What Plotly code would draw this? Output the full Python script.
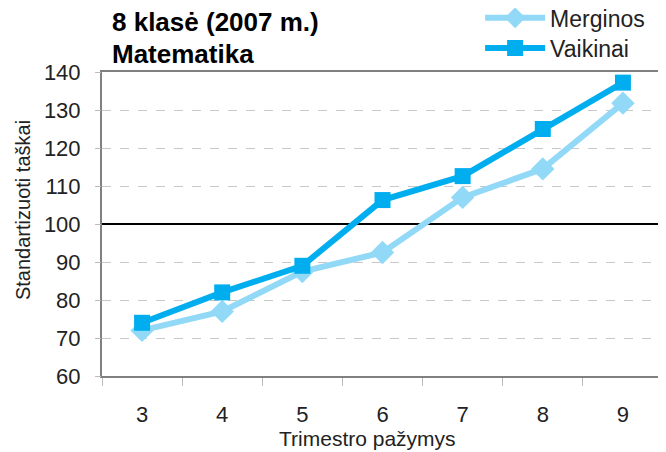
import plotly.graph_objects as go

grades = [3, 4, 5, 6, 7, 8, 9]
merginos = [72.0, 77.0, 87.5, 92.5, 107.0, 114.5, 131.8]
vaikinai = [74.0, 82.0, 89.0, 106.3, 112.6, 125.0, 137.2]
ref_value = 100
y_ticks = [60, 70, 80, 90, 100, 110, 120, 130, 140]
y_range = [60, 140]
x_range = [2.5, 9.5]

font = "Liberation Sans, Arial, sans-serif"
light = "#92D9F7"
dark = "#00AEEF"

fig = go.Figure()
# reference line at 100 (drawn first so the data lines sit on top of it)
fig.add_trace(go.Scatter(x=x_range, y=[ref_value, ref_value], mode="lines",
                         line=dict(color="black", width=2), showlegend=False,
                         hoverinfo="skip"))
fig.add_trace(go.Scatter(
    x=grades, y=merginos, name="Merginos", mode="lines+markers",
    line=dict(color=light, width=6),
    marker=dict(symbol="diamond", size=18, color=light),
    legend="legend",
))
fig.add_trace(go.Scatter(
    x=grades, y=vaikinai, name="Vaikinai", mode="lines+markers",
    line=dict(color=dark, width=6),
    marker=dict(symbol="square", size=16, color=dark),
    legend="legend2",
))
# invisible helper trace so the tick-mark axis is drawn
fig.add_trace(go.Scatter(x=[grades[0]], y=[merginos[0]], yaxis="y2", mode="markers",
                         marker=dict(opacity=0), showlegend=False, hoverinfo="skip"))

fig.add_annotation(text="<b>8 klasė (2007 m.)</b>", xref="paper", yref="paper",
                   x=0.014, y=1.164, xanchor="left", yanchor="middle", showarrow=False,
                   font=dict(family=font, size=26, color="black"))
fig.add_annotation(text="<b>Matematika</b>", xref="paper", yref="paper",
                   x=0.014, y=1.059, xanchor="left", yanchor="middle", showarrow=False,
                   font=dict(family=font, size=26, color="black"))
# axis titles
fig.add_annotation(text="Trimestro pažymys", xref="paper", yref="paper",
                   x=0.473, y=-0.204, xanchor="center", yanchor="middle", showarrow=False,
                   font=dict(family=font, size=21, color="#222"))
fig.add_annotation(text="Standartizuoti taškai", xref="paper", yref="paper",
                   x=-0.1408, y=0.546, xanchor="center", yanchor="middle", showarrow=False,
                   textangle=-90, font=dict(family=font, size=20, color="#222"))

legend_common = dict(xanchor="left", yanchor="middle", bgcolor="rgba(0,0,0,0)",
                     font=dict(family=font, size=23, color="#222"), itemwidth=60,
                     borderwidth=0)

fig.update_layout(
    width=658, height=444,
    margin=dict(l=94, r=3, t=64, b=76, autoexpand=False),
    paper_bgcolor="white", plot_bgcolor="white",
    font=dict(family=font, size=22, color="#222"),
    showlegend=True,
    legend=dict(x=0.674, y=1.178, **legend_common),
    legend2=dict(x=0.674, y=1.079, **legend_common),
    xaxis=dict(range=x_range, tickvals=grades, ticks="outside", ticklen=18,
               tickcolor="rgba(0,0,0,0)", showgrid=False, zeroline=False,
               showline=True, linecolor="#808080", linewidth=2, mirror=True,
               minor=dict(ticks="outside", ticklen=8, tickcolor="#BBBBBB",
                          tick0=x_range[0], dtick=1, showgrid=False)),
    yaxis=dict(range=y_range, tickvals=y_ticks, ticks="outside", ticklen=15,
               tickcolor="rgba(0,0,0,0)", showgrid=True, gridcolor="#C8C8C8",
               griddash="dash", gridwidth=1, showline=True, linecolor="#808080",
               linewidth=2, mirror=True, zeroline=False),
    yaxis2=dict(overlaying="y", side="left", range=y_range, tickvals=y_ticks,
                ticks="outside", ticklen=6, tickcolor="#BBBBBB",
                showticklabels=False, showgrid=False, showline=False, zeroline=False),
)

fig.write_html("out.html", config={"displayModeBar": False})
